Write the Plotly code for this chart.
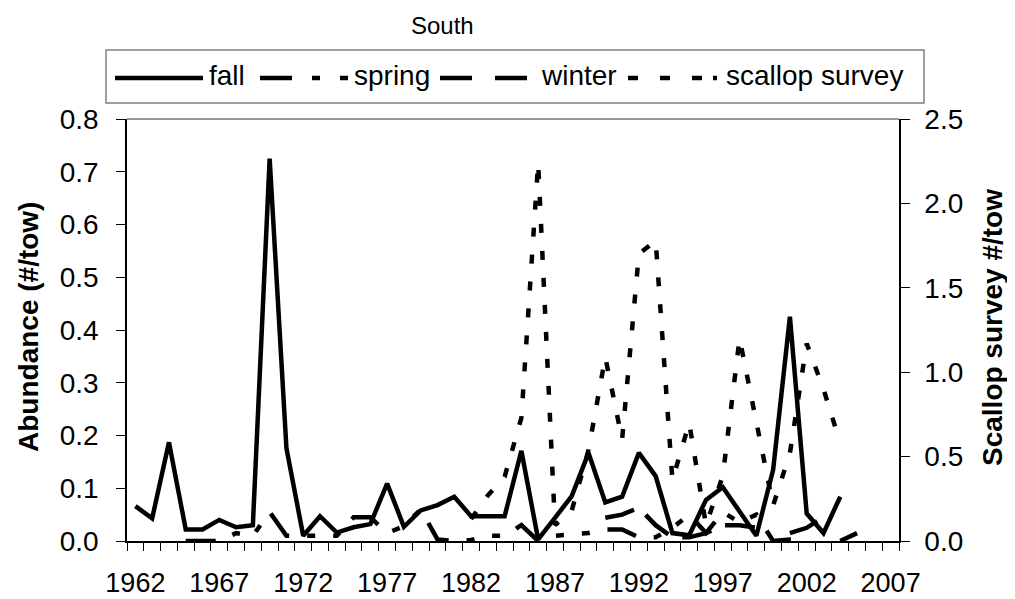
import plotly.graph_objects as go

years = list(range(1962, 2006))

fall = [0.066, 0.043, 0.187, 0.022, 0.022, 0.040, 0.026, 0.030, 0.725, 0.176,
        0.010, 0.047, 0.016, 0.026, 0.032, 0.109, 0.027, 0.058, 0.068, 0.084,
        0.047, 0.047, 0.047, 0.171, 0.003, 0.044, 0.085, 0.167, 0.073, 0.084,
        0.167, 0.123, 0.015, 0.011, 0.078, 0.102, 0.057, 0.010, 0.135, 0.425,
        0.052, 0.015, 0.084, None]

spring = [None, None, None, 0.0, 0.0, 0.0, 0.015, 0.010, 0.055, 0.010,
          0.010, 0.010, 0.010, 0.045, 0.045, 0.015, 0.028, 0.060, 0.003, 0.0,
          0.002, 0.010, 0.010, 0.030, 0.0, 0.010, 0.012, 0.015, 0.022, 0.022,
          0.007, 0.007, 0.025, 0.050, 0.015, 0.055, 0.035, 0.050, 0.0, 0.003,
          0.003, None, 0.0, 0.015]

winter = [None] * 28 + [0.044, 0.050, 0.063, 0.030, 0.007, 0.007, 0.015, 0.030,
                        0.030, 0.025, None, 0.015, 0.025, 0.045, None, None]

scallop = [None] * 20 + [0.13, 0.27, 0.38, 0.73, 2.24, 0.095, 0.18, 0.54, 1.09, 0.60,
                         1.70, 1.78, 0.36, 0.70, 0.095, 0.385, 1.20, 0.72, 0.21, 0.52,
                         1.17, 0.90, 0.58, None]

x_ticks = list(range(1962, 2008, 5))
x_labels = [str(v) for v in x_ticks]

FONT = "Liberation Sans, Arial, sans-serif"
OFF = 8                      # page body margin
W, H = 1015 - OFF, 599 - OFF
TL, TR, TT, TB = 127, 899, 119, 541  # plot area in screen pixels


def px(xp):
    return (xp - TL) / (TR - TL)


def py(yp):
    return (TB - yp) / (TB - TT)


fig = go.Figure()
lw = 4.5
fig.add_trace(go.Scatter(x=years, y=fall, mode="lines", name="fall",
                         line=dict(color="black", width=lw)))
fig.add_trace(go.Scatter(x=years, y=spring, mode="lines", name="spring",
                         line=dict(color="black", width=lw, dash="30px,18px,8px,18px,8px,18px")))
fig.add_trace(go.Scatter(x=years, y=winter, mode="lines", name="winter",
                         line=dict(color="black", width=lw, dash="30px,15px")))
fig.add_trace(go.Scatter(x=years, y=scallop, mode="lines", name="scallop survey",
                         yaxis="y2", line=dict(color="black", width=lw, dash="9px,18px")))

shapes = []
annotations = []

shapes.append(dict(type="line", xref="paper", yref="paper", x0=0, x1=1, y0=1, y1=1,
                   line=dict(color="#9a9a9a", width=2)))
shapes.append(dict(type="rect", xref="paper", yref="paper", x0=px(106), x1=px(924),
                   y0=py(103), y1=py(50), line=dict(color="#808080", width=1.5),
                   fillcolor="rgba(0,0,0,0)"))
leg_y = py(78)
segments = [(115, 203), (260, 292), (312, 320), (340, 348), (440, 472), (495, 527),
            (628, 638), (660, 670), (692, 702), (713, 717)]
for a, b in segments:
    shapes.append(dict(type="line", xref="paper", yref="paper", x0=px(a), x1=px(b),
                       y0=leg_y, y1=leg_y, line=dict(color="black", width=4.5)))
for txt, xl in [("fall", 207), ("spring", 352), ("winter", 539), ("scallop survey", 724)]:
    annotations.append(dict(text=txt, xref="paper", yref="paper", x=px(xl), y=py(75),
                            xanchor="left", yanchor="middle", showarrow=False,
                            font=dict(family=FONT, size=28, color="black")))

annotations.append(dict(text="South", xref="paper", yref="paper", x=px(442), y=py(25),
                        xanchor="center", yanchor="middle", showarrow=False,
                        font=dict(family=FONT, size=24, color="black")))
annotations.append(dict(text="<b>Abundance (#/tow)</b>", xref="paper", yref="paper",
                        x=px(28), y=py(327), xanchor="center", yanchor="middle",
                        textangle=-90, showarrow=False,
                        font=dict(family=FONT, size=28, color="black")))
annotations.append(dict(text="<b>Scallop survey #/tow</b>", xref="paper", yref="paper",
                        x=px(992), y=py(328), xanchor="center", yanchor="middle",
                        textangle=-90, showarrow=False,
                        font=dict(family=FONT, size=28, color="black")))

fig.update_layout(
    width=W, height=H, autosize=False,
    margin=dict(l=TL - OFF, r=W - (TR - OFF), t=TT - OFF, b=H - (TB - OFF),
                pad=0, autoexpand=False),
    paper_bgcolor="white", plot_bgcolor="white",
    showlegend=False,
    font=dict(family=FONT, color="black"),
    shapes=shapes, annotations=annotations,
    xaxis=dict(range=[1961.5, 2007.5], tickvals=x_ticks, ticktext=x_labels,
               automargin=False,
               ticks="outside", ticklen=8, tickcolor="rgba(0,0,0,0)",
               showline=True, linecolor="black", linewidth=1.5,
               showgrid=False, zeroline=False,
               tickfont=dict(family=FONT, size=27, color="black"),
               ticklabelstandoff=9,
               minor=dict(ticks="outside", ticklen=8, tick0=1961.5, dtick=1,
                          tickcolor="black", tickwidth=1, showgrid=False)),
    yaxis=dict(range=[0, 0.8], dtick=0.1, tickformat=".1f", automargin=False,
               ticks="outside", ticklen=9, tickcolor="black", tickwidth=1,
               showline=True, linecolor="black", linewidth=1.5,
               showgrid=False, zeroline=False,
               tickfont=dict(family=FONT, size=28, color="black"),
               ticklabelstandoff=12),
    yaxis2=dict(range=[0, 2.5], dtick=0.5, tickformat=".1f", overlaying="y", side="right",
                automargin=False,
                ticks="outside", ticklen=9, tickcolor="black", tickwidth=1,
                showline=True, linecolor="black", linewidth=1.5,
                showgrid=False, zeroline=False,
                tickfont=dict(family=FONT, size=28, color="black"),
                ticklabelstandoff=9),
)

fig.write_html("out.html")
